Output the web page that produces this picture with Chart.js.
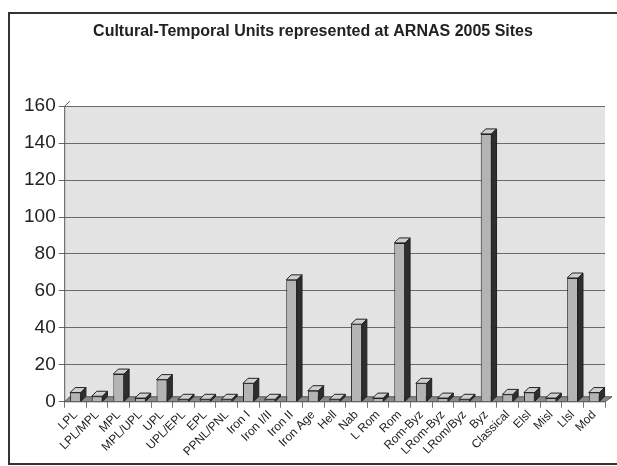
<!DOCTYPE html>
<html lang="en">
<head>
<meta charset="UTF-8">
<title>Cultural-Temporal Units represented at ARNAS 2005 Sites</title>
<script src="https://cdn.jsdelivr.net/npm/chart.js"></script>
<style>
  body { margin: 0; background: #fff; }
  #wrap { position: relative; width: 617px; height: 466px; }
</style>
</head>
<body>
<div id="wrap">
  <canvas id="unitsChart" width="617" height="466"></canvas>
</div>
<script>
// periods along the x axis
const periods = ['LPL', 'LPL/MPL', 'MPL', 'MPL/UPL', 'UPL', 'UPL/EPL', 'EPL', 'PPNL/PNL',
  'Iron I', 'Iron I/II', 'Iron II', 'Iron Age', 'Hell', 'Nab', 'L Rom', 'Rom', 'Rom-Byz',
  'LRom-Byz', 'LRom/Byz', 'Byz', 'Classical', 'Elsl', 'Misl', 'Llsl', 'Mod'];
// number of sites per period
const siteCounts = [5, 3, 15, 2, 12, 0, 0, 0, 10, 1, 66, 6, 0, 42, 2, 86, 10, 2, 0, 145, 4, 5, 2, 67, 5];
const yTicks = [0, 20, 40, 60, 80, 100, 120, 140, 160];

const DEPTH = 5;

// fake 3D: wall, floor, bar sides
const depthPlugin = {
  id: 'depth',
  beforeDraw(chart) {
    const a = chart.chartArea, c = chart.ctx;
    c.save();
    c.fillStyle = '#fff';
    c.fillRect(0, 0, chart.width, chart.height);
    c.strokeStyle = '#333';
    c.lineWidth = 2;
    c.strokeRect(9, 13, chart.width + 20, chart.height - 15);
    // back wall
    c.fillStyle = '#e3e3e3';
    c.fillRect(a.left, a.top, a.right - a.left, a.bottom - a.top);
    c.restore();
  },
  beforeDatasetsDraw(chart) {
    const a = chart.chartArea, c = chart.ctx;
    c.save();
    // floor slab
    c.beginPath();
    c.moveTo(a.left, a.bottom);
    c.lineTo(a.right, a.bottom);
    c.lineTo(a.right + DEPTH + 2, a.bottom - DEPTH);
    c.lineTo(a.left + DEPTH, a.bottom - DEPTH);
    c.closePath();
    c.fillStyle = '#8a8a8a';
    c.fill();
    c.strokeStyle = '#555';
    c.lineWidth = 1;
    c.stroke();
    // left wall edge
    c.beginPath();
    c.moveTo(a.left, a.bottom);
    c.lineTo(a.left, a.top);
    c.lineTo(a.left + DEPTH, a.top - DEPTH);
    c.stroke();
    c.restore();
  },
  afterDatasetsDraw(chart) {
    const c = chart.ctx;
    c.save();
    c.lineWidth = 1;
    c.strokeStyle = '#222';
    chart.getDatasetMeta(0).data.forEach(bar => {
      const l = bar.x - bar.width / 2, r = bar.x + bar.width / 2;
      const t = Math.min(bar.y, bar.base - 2), b = bar.base;
      // top face
      c.beginPath();
      c.moveTo(l, t);
      c.lineTo(l + DEPTH, t - DEPTH);
      c.lineTo(r + DEPTH, t - DEPTH);
      c.lineTo(r, t);
      c.closePath();
      c.fillStyle = '#cfcfcf';
      c.fill();
      c.stroke();
      // side face
      c.beginPath();
      c.moveTo(r, t);
      c.lineTo(r + DEPTH, t - DEPTH);
      c.lineTo(r + DEPTH, b - DEPTH);
      c.lineTo(r, b);
      c.closePath();
      c.fillStyle = '#2e2e2e';
      c.fill();
      c.stroke();
    });
    c.restore();
  }
};

new Chart(document.getElementById('unitsChart'), {
  type: 'bar',
  data: {
    labels: periods,
    datasets: [{
      label: 'Sites',
      data: siteCounts,
      backgroundColor: '#b4b4b4',
      borderColor: '#222',
      borderWidth: 1,
      barPercentage: 0.5,
      categoryPercentage: 1,
      minBarLength: 2
    }]
  },
  options: {
    responsive: false,
    animation: false,
    layout: { padding: { top: 8, right: 12, left: 21, bottom: 7 } },
    plugins: {
      legend: { display: false },
      tooltip: { enabled: false },
      title: {
        display: true,
        text: 'Cultural-Temporal Units represented at ARNAS 2005 Sites',
        color: '#222',
        font: { family: 'Arial, "Liberation Sans", sans-serif', size: 16, weight: 'bold' },
        padding: { top: 14, bottom: 65 }
      }
    },
    scales: {
      x: {
        grid: { display: true, drawOnChartArea: false, color: '#777', tickLength: 6, offset: true },
        border: { display: false },
        ticks: {
          color: '#222',
          minRotation: 45,
          maxRotation: 45,
          autoSkip: false,
          padding: 0,
          font: { family: 'Arial, "Liberation Sans", sans-serif', size: 12 }
        }
      },
      y: {
        min: 0,
        max: 160,
        afterBuildTicks(axis) { axis.ticks = yTicks.map(v => ({ value: v })); },
        grid: { color: '#6a6a6a', tickLength: 6, lineWidth: 1 },
        border: { display: false },
        ticks: {
          color: '#222',
          padding: 3,
          font: { family: 'Arial, "Liberation Sans", sans-serif', size: 19 }
        }
      }
    }
  },
  plugins: [depthPlugin]
});
</script>
</body>
</html>
